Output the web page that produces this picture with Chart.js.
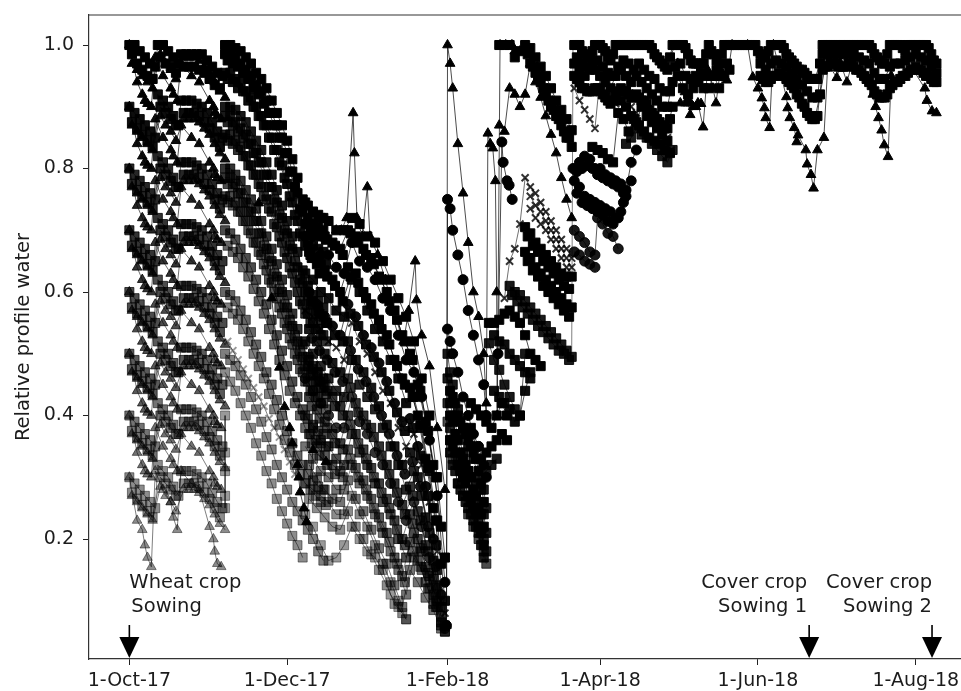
<!DOCTYPE html>
<html>
<head>
<meta charset="utf-8">
<title>Relative profile water</title>
<script src="https://cdn.jsdelivr.net/npm/chart.js@4/dist/chart.umd.min.js"></script>
<style>
  body { margin: 0; background: #fff; overflow: hidden; }
  canvas { display: block; }
</style>
</head>
<body>
<canvas id="waterChart" width="961" height="691"></canvas>
<script>
/*--Axis data (x is days after 1-Oct-17)--*/
const xTickDays = [0, 61, 123, 182, 243, 304];
const xTickLabels = ['1-Oct-17', '1-Dec-17', '1-Feb-18', '1-Apr-18', '1-Jun-18', '1-Aug-18'];
const yTickValues = [0.2, 0.4, 0.6, 0.8, 1.0];
const notes = [
  { day: 0, lines: ['Wheat crop', 'Sowing'], align: 'left', textDay: 0 },
  { day: 262.8, lines: ['Cover crop', 'Sowing 1'], align: 'right', textDay: 262 },
  { day: 310.3, lines: ['Cover crop', 'Sowing 2'], align: 'right', textDay: 310.3 }
];

/*--Wheat crop, Oct to Nov: slow, mid and fast runs per starting level--*/
const slowDays = [0,2,4,6,8,10,11,13,15,17,19,20,22,24,26,28,30,32,34,36];
const slow10 = [1,1,.99,.98,.97,.965,1,1,.99,.98,.97,.985,.985,.985,.985,.985,.975,.965,.955,.95];
const slow09 = [.9,.89,.88,.87,.86,.85,.92,.91,.9,.885,.87,.91,.91,.91,.905,.9,.89,.875,.86,.85];
const slow08 = [.8,.79,.78,.77,.76,.75,.82,.81,.8,.785,.77,.81,.81,.81,.805,.8,.79,.775,.76,.75];
const slow07 = [.7,.69,.68,.67,.66,.65,.72,.71,.7,.685,.67,.71,.71,.71,.705,.7,.69,.675,.66,.65];
const slow06 = [.6,.59,.58,.57,.56,.55,.62,.61,.6,.585,.57,.61,.61,.61,.605,.6,.59,.575,.56,.55];
const slow05 = [.5,.49,.48,.47,.46,.45,.52,.51,.5,.485,.47,.51,.51,.51,.505,.5,.49,.475,.46,.45];
const slow04 = [.4,.39,.38,.37,.36,.35,.42,.41,.4,.385,.37,.41,.41,.41,.405,.4,.39,.375,.36,.35];
const slow03 = [.3,.29,.28,.27,.26,.25,.32,.31,.3,.285,.27,.31,.31,.31,.305,.3,.29,.275,.26,.25];

const slowBDays = [1,3,5,7,9,12,14,16,18,21,23,25,27,29,31,33,35];
const slowB10 = [.985,.97,.96,.95,.945,.98,.97,.965,.955,.965,.965,.965,.96,.955,.945,.935,.93];
const slowB09 = [.875,.865,.855,.845,.835,.9,.89,.88,.87,.89,.89,.89,.885,.875,.865,.85,.835];
const slowB08 = [.775,.765,.755,.745,.735,.8,.79,.78,.77,.79,.79,.79,.785,.775,.765,.75,.735];
const slowB07 = [.675,.665,.655,.645,.635,.7,.69,.68,.67,.69,.69,.69,.685,.675,.665,.65,.635];
const slowB06 = [.575,.565,.555,.545,.535,.6,.59,.58,.57,.59,.59,.59,.585,.575,.565,.55,.535];
const slowB05 = [.475,.465,.455,.445,.435,.5,.49,.48,.47,.49,.49,.49,.485,.475,.465,.45,.435];
const slowB04 = [.375,.365,.355,.345,.335,.4,.39,.38,.37,.39,.39,.39,.385,.375,.365,.35,.335];
const slowB03 = [.275,.265,.255,.245,.235,.3,.29,.28,.27,.29,.29,.29,.285,.275,.265,.25,.235];

const midDays = [1,3,5,7,9,12,14,16,18,21,23,25,27,29,31,33,35,37];
const mid10 = [.97,.96,.95,.94,.93,.985,.97,.96,.945,.98,.98,.98,.975,.965,.955,.94,.925,.915];
const mid09 = [.87,.86,.85,.84,.83,.885,.87,.86,.845,.88,.88,.88,.875,.865,.855,.84,.825,.815];
const mid08 = [.77,.76,.75,.74,.73,.785,.77,.76,.745,.78,.78,.78,.775,.765,.755,.74,.725,.715];
const mid07 = [.67,.66,.65,.64,.63,.685,.67,.66,.645,.68,.68,.68,.675,.665,.655,.64,.625,.615];
const mid06 = [.57,.56,.55,.54,.53,.585,.57,.56,.545,.58,.58,.58,.575,.565,.555,.54,.525,.515];
const mid05 = [.47,.46,.45,.44,.43,.485,.47,.46,.445,.48,.48,.48,.475,.465,.455,.44,.425,.415];
const mid04 = [.37,.36,.35,.34,.33,.385,.37,.36,.345,.38,.38,.38,.375,.365,.355,.34,.325,.315];
const mid03 = [.27,.26,.25,.24,.23,.285,.27,.26,.245,.28,.28,.28,.275,.265,.255,.24,.225,.215];

const fastDays = [0,3,5,6,7,8.5,10,13,16,17,18.5,20,24,27,31,32.5,33,34,35.5];
const fast10 = [1,.94,.92,.91,.905,.9,.98,.95,.93,.92,.91,.97,.95,.94,.91,.9,.89,.885,.88];
const fast09 = [.9,.84,.82,.81,.805,.8,.88,.85,.83,.82,.81,.87,.85,.84,.81,.8,.79,.785,.78];
const fast08 = [.8,.74,.72,.71,.705,.7,.78,.75,.73,.72,.71,.77,.75,.74,.71,.7,.69,.685,.68];
const fast07 = [.7,.64,.62,.61,.605,.6,.68,.65,.63,.62,.61,.67,.65,.64,.61,.6,.59,.585,.58];
const fast06 = [.6,.54,.52,.51,.505,.5,.58,.55,.53,.52,.51,.57,.55,.54,.51,.5,.49,.485,.48];
const fast05 = [.5,.44,.42,.41,.405,.4,.48,.45,.43,.42,.41,.47,.45,.44,.41,.4,.39,.385,.38];
const fast04 = [.4,.34,.32,.31,.305,.3,.38,.35,.33,.32,.31,.37,.35,.34,.31,.3,.29,.285,.28];
const fast03 = [.3,.23,.215,.19,.17,.155,.31,.28,.26,.235,.215,.31,.29,.28,.22,.2,.18,.16,.155];

/*--Second sowing run, from early Nov--*/
const novDays = [37,39,41,43,45,47,49,51,53,55,57,59,61,63,65,67,69,71,73,75];
const novA = [1,1,.995,.99,.98,.97,.955,.945,.93,.91,.89,.87,.845,.815,.785,.75,.74,.73,.725,.72];
const novB = [.9,.9,.895,.885,.875,.86,.845,.83,.81,.79,.765,.74,.715,.69,.665,.635,.61,.595,.585,.575];
const novC = [.8,.8,.79,.78,.765,.75,.735,.715,.69,.67,.645,.62,.595,.565,.54,.515,.495,.48,.47,.46];
const novD = [.7,.695,.685,.67,.655,.64,.62,.6,.58,.555,.53,.505,.48,.455,.43,.41,.395,.385,.375,.37];
const novE = [.6,.595,.585,.57,.555,.535,.515,.495,.47,.45,.425,.4,.375,.355,.335,.32,.305,.295,.285,.28];
const novF = [.5,.49,.48,.465,.45,.43,.41,.39,.365,.345,.32,.3,.28,.26,.245,.23,.215,.2,.18,.165];
const novA4 = [.985,.985,.98,.97,.96,.95,.935,.925,.91,.89,.87,.85,.825,.795,.76,.73,.72,.71,.705,.7];
const novA5 = [.955,.955,.945,.94,.925,.915,.9,.885,.87,.85,.83,.805,.775,.745,.715,.69,.68,.675,.67,.665];
const novB4 = [.885,.885,.875,.865,.855,.84,.825,.81,.79,.77,.745,.72,.695,.67,.64,.615,.595,.58,.57,.56];
const novB5 = [.855,.855,.845,.835,.82,.805,.79,.77,.75,.73,.705,.68,.655,.63,.6,.58,.565,.55,.54,.53];
const novC4 = [.785,.785,.775,.76,.745,.73,.715,.695,.67,.65,.625,.6,.575,.545,.52,.495,.48,.465,.455,.445];
const novC5 = [.755,.755,.745,.73,.715,.695,.68,.66,.635,.615,.59,.565,.54,.515,.49,.47,.455,.44,.43,.42];
const novBackDays = [38,40,42,44,46,48,50,52,54,56,58,60,62,64,66,68,70,72,74,76];
const novA2 = [.975,.97,.965,.955,.945,.93,.92,.905,.89,.87,.85,.825,.795,.77,.735,.71,.7,.695,.69,.685];
const novA3 = [.945,.94,.93,.925,.91,.9,.885,.87,.85,.83,.81,.785,.755,.725,.695,.675,.66,.655,.65,.645];
const novB2 = [.875,.87,.86,.85,.84,.825,.81,.79,.77,.75,.725,.7,.675,.65,.62,.6,.58,.565,.555,.55];
const novB3 = [.845,.84,.83,.82,.805,.79,.775,.755,.735,.71,.69,.665,.64,.615,.585,.565,.55,.54,.53,.52];
const novC2 = [.775,.77,.76,.745,.73,.715,.695,.675,.655,.63,.605,.58,.555,.53,.505,.48,.465,.455,.445,.435];
const novC3 = [.745,.74,.73,.715,.7,.68,.665,.645,.62,.6,.575,.55,.525,.5,.475,.455,.44,.43,.42,.41];
const novD2 = [.675,.665,.655,.64,.625,.605,.585,.565,.54,.515,.49,.465,.44,.42,.4,.38,.37,.36,.355,.35];
const novE2 = [.575,.565,.555,.54,.52,.5,.48,.46,.435,.41,.385,.36,.34,.32,.305,.29,.28,.27,.26,.255];
const novGDays = [37,39,41,43,45,47,49,51,53,55,57,59,61,63,65,67];
const novG = [.47,.455,.44,.42,.4,.38,.355,.335,.31,.29,.265,.245,.225,.205,.19,.17];
const novCrossDays = [38,40,42,44,46,48,50,52,54,56,58,60,62,64];
const novCross = [.52,.505,.49,.475,.46,.445,.43,.415,.395,.38,.365,.345,.325,.305];
const lowSquareDays = [37,37,37,37,37];
const lowSquares = [.4,.34,.31,.27,.25];
const blackTriDays = [50,55,58,60,62,63,65,65.5,66,67.5,68.5,71,76];
const blackTri = [.744,.59,.478,.414,.38,.355,.32,.3,.276,.25,.228,.344,.325];

/*--Dec and Jan mass--*/
const decDays = [68,71,74,77,80,83,86,89,92,95,98,101,104,107,110,113,116,119,122];
const decA = [.745,.73,.72,.715,.7,.7,.72,.71,.69,.68,.65,.62,.59,.56,.52,.46,.4,.3,.17];
const decB = [.69,.69,.66,.66,.64,.63,.68,.65,.64,.62,.59,.57,.53,.49,.47,.43,.36,.27,.13];
const decC = [.63,.62,.6,.59,.57,.56,.62,.6,.57,.54,.52,.49,.46,.42,.43,.38,.31,.23,.1];
const decD = [.57,.56,.54,.52,.51,.49,.55,.52,.5,.47,.44,.42,.38,.35,.37,.32,.26,.18,.08];
const decE = [.52,.5,.48,.46,.44,.43,.49,.45,.43,.41,.38,.35,.32,.28,.31,.27,.21,.15,.06];
const decF = [.46,.44,.42,.4,.38,.38,.43,.39,.37,.34,.32,.29,.26,.23,.26,.22,.17,.12,.055];
const decG = [.4,.38,.36,.35,.33,.32,.37,.34,.32,.29,.26,.24,.2,.17,.21,.18,.14,.1,.05];
const decH = [.35,.33,.31,.3,.28,.28,.32,.29,.27,.24,.21,.18,.15,.11,.17,.15,.12,.09,.05];
const decIDays = [68,71,74,77,80,83,86,89,92,95,98,101,104,107];
const decI = [.29,.28,.27,.26,.24,.24,.27,.24,.22,.19,.16,.13,.1,.07];
const decJ = [.24,.22,.19,.165,.17,.19,.22,.2,.18,.17,.15,.11,.09,.07];
const decBackDays = [69.5,72.5,75.5,78.5,81.5,84.5,87.5,90.5,93.5,96.5,99.5,102.5,105.5,108.5,111.5,114.5,117.5,120.5];
const decA2 = [.71,.7,.69,.68,.67,.7,.69,.67,.655,.625,.6,.57,.53,.5,.45,.39,.32,.22];
const decB2 = [.665,.645,.635,.62,.6,.64,.63,.6,.58,.555,.53,.49,.46,.445,.4,.33,.25,.16];
const decC2 = [.6,.58,.56,.545,.53,.58,.56,.53,.51,.485,.455,.42,.39,.395,.35,.285,.2,.11];
const decD2 = [.54,.52,.5,.485,.47,.52,.49,.47,.445,.415,.385,.35,.32,.34,.3,.235,.165,.09];
const decE2 = [.49,.47,.45,.43,.415,.46,.42,.4,.38,.35,.32,.29,.255,.285,.245,.19,.135,.075];
const decF2 = [.43,.41,.39,.37,.355,.4,.37,.345,.315,.29,.265,.23,.2,.24,.2,.155,.11,.065];
const decG2 = [.37,.35,.335,.32,.31,.345,.315,.295,.265,.235,.21,.17,.14,.195,.165,.13,.095,.06];
const decH2 = [.32,.3,.28,.265,.26,.295,.265,.245,.215,.185,.16,.125,.09,.15,.13,.105,.085,.055];
const decI2Days = [69.5,72.5,75.5,78.5,81.5,84.5,87.5,90.5,93.5,96.5,99.5,102.5,105.5];
const decI2 = [.265,.25,.235,.22,.215,.245,.22,.2,.175,.15,.125,.095,.08];
const decThirdDays = [70.5,73.5,76.5,79.5,82.5,85.5,88.5,91.5,94.5,97.5,100.5,103.5,106.5,109.5,112.5,115.5,118.5];
const decA3 = [.7,.695,.685,.675,.66,.695,.68,.66,.645,.62,.585,.555,.52,.49,.44,.375,.3];
const decB3 = [.655,.63,.625,.61,.585,.625,.615,.59,.565,.54,.515,.48,.45,.43,.385,.315,.23];
const decC3 = [.585,.565,.55,.53,.52,.565,.545,.515,.495,.47,.44,.405,.375,.38,.335,.27,.19];
const decD3 = [.525,.505,.49,.47,.455,.505,.475,.455,.43,.4,.37,.335,.305,.325,.285,.22,.155];
const decE3 = [.475,.455,.44,.415,.4,.445,.405,.385,.365,.335,.305,.275,.24,.27,.23,.18,.125];
const decF3 = [.415,.395,.38,.355,.345,.385,.355,.33,.3,.275,.25,.215,.19,.225,.185,.145,.105];
const decG3 = [.355,.335,.32,.305,.3,.33,.3,.28,.25,.22,.195,.16,.13,.18,.155,.12,.09];
const jumpDecDays = [77.4,77.8];
const jumpDec = [.31,.62];
const spikeDays = [80,82,84,86.5,87,88,90,92,93,96,99,102,106,108,110.5,111,113,116,119,122];
const spike = [.7,.7,.72,.89,.825,.72,.69,.77,.69,.66,.62,.57,.52,.57,.65,.587,.53,.48,.38,.28];

/*--Feb, refill then fast drying to the mid Feb low--*/
const febDays = [123,124,125,127,129,131,133,135,137,138];
const febTopDays = [122.6,123,124,125,127,129,131,133,135,137,138];
const febTop = [.06,1,.97,.93,.84,.76,.68,.6,.56,.5,.42];
const febCircleDays = [122.6,123,124,125,127,129,131,133,135,137,138];
const febCircle = [.06,.75,.735,.7,.66,.62,.57,.53,.49,.45,.4];
const febC = [.54,.52,.5,.47,.43,.4,.37,.35,.32,.3];
const febD = [.5,.47,.45,.41,.38,.35,.33,.3,.28,.25];
const febE = [.46,.42,.4,.37,.34,.31,.28,.26,.24,.21];
const febF = [.42,.38,.36,.33,.3,.27,.25,.23,.2,.18];
const febG = [.39,.36,.33,.29,.27,.24,.22,.2,.18,.16];
const febDailyDays = [124,125,126,127,128,129,130,131,132,133,134,135,136,137];
const febH = [.44,.43,.42,.4,.39,.38,.37,.36,.35,.34,.33,.31,.29,.26];
const febI = [.4,.39,.37,.36,.34,.33,.32,.31,.3,.28,.27,.25,.24,.22];
const febJ = [.36,.35,.34,.32,.31,.3,.29,.27,.26,.25,.24,.22,.21,.19];
const febK = [.34,.32,.31,.29,.28,.27,.26,.25,.24,.23,.22,.21,.19,.17];
const febRightDays = [132,134,136,138,140,142,144,146];
const febL = [.42,.41,.4,.39,.38,.4,.42,.4];
const febM = [.38,.35,.33,.34,.35,.36,.37,.36];
const febNDays = [132,134,136,138,140,142];
const febN = [.3,.29,.28,.31,.32,.33];

/*--Late Feb and Mar--*/
const rainTriDays = [138,138.6,139.5,140.5,141.5,142,142.2,143.3,145.5,147.9,149,151];
const rainTri = [.4,.857,.84,.833,.78,.6,.4,1,1,1,.99,.99];
const rainCircleDays = [142.5,144,144.5,146,146.8,148];
const rainCircle = [.5,.843,.81,.78,.773,.75];
const marDays = [143,145,147,149,151,153,155,157,159,161,163,165,167,169,171];
const marA = [1,1,1,.98,.99,1,.995,.98,.965,.95,.93,.91,.895,.88,.862];
const marB = [.87,.86,.93,.92,.9,.92,.97,.94,.915,.885,.855,.825,.785,.75,.72];
const marA2Days = [155,157,159,161,163,165,167,169,171];
const marA2 = [.97,.955,.94,.92,.9,.885,.87,.85,.835];
const marCrossDays = [145,147,149,151,153,155,157,159,161,163,165,167,169,171];
const marCross = [.59,.65,.67,.71,.785,.77,.76,.745,.73,.715,.7,.685,.67,.655];
const marCross2 = [.755,.74,.73,.715,.7,.685,.67,.655,.64];
const marCross3 = [.735,.72,.71,.7,.685,.67,.655,.64,.625];
const marSqDays = [153,155,157,159,161,163,165,167,169,171];
const marSqA = [.705,.695,.68,.67,.66,.65,.64,.63,.625,.625];
const marSqB = [.665,.655,.64,.63,.62,.61,.6,.59,.58,.575];
const marSqBackDays = [154,156,158,160,162,164,166,168,170];
const marA3 = [.985,.965,.95,.93,.91,.895,.88,.86,.85];
const marSqA2 = [.69,.675,.665,.65,.64,.63,.62,.61,.605];
const marSqB2 = [.65,.635,.625,.61,.6,.59,.58,.57,.56];
const marSqCDays = [147,149,151,153,155,157,159,161,163,165,167,169,171];
const marSqC = [.61,.6,.595,.585,.575,.565,.555,.545,.535,.525,.515,.505,.495];
const marSqC2Days = [148,150,152,154,156,158,160,162,164,166,168,170];
const marSqC2 = [.595,.585,.575,.565,.555,.545,.535,.525,.515,.505,.5,.49];
const marSqDDays = [139,141,143,145,147,149,151,153,155,157,159];
const marSqD = [.55,.55,.555,.565,.57,.56,.55,.53,.5,.49,.48];
const marSqEDays = [139,141,143,145,147,149,151,153];
const marSqE = [.517,.49,.474,.45,.43,.41,.4,.5];
const marFillDays = [141,143,145,147,149,151,153,155];
const marFillA = [.53,.52,.515,.5,.49,.48,.47,.46];
const marFillB = [.44,.43,.42,.41,.39,.4,.44,.47];
const marJumpDays = [171,171.5];
const marJump = [.5,1];

/*--Apr to mid May recovery--*/
const aprDays = [172,174,176,178,180,182,184,186,188,190,192,194,196,198,200,202,204,206,208,210,212,214,216,218,220,222,224,226,228,230,232];
const aprTop = [1,1,.985,.98,1,1,.99,.975,1,1,1,1,1,1,1,.995,.98,.97,.96,1,1,1,.985,.97,.97,.97,1,.985,.97,1,1];
const aprSecond = [.97,.96,.95,.96,.96,.95,.94,.93,.95,.96,.95,.94,.95,.94,.93,.92,.91,.9,.9,.94,.95,.93,.92,.93,.94,.93,.93,.95,.93,.95,.96];
const aprOddDays = [173,175,177,179,181,183,185,187,189,191,193,195,197,199,201,203,205,207,209,211,213,215,217,219,221,223,225,227,229,231];
const aprTopB = [1,.99,.98,.99,1,.995,.98,.985,1,1,1,1,1,1,1,.985,.975,.965,.98,1,1,.995,.975,.97,.97,.985,.99,.975,.985,1];
const aprSecondB = [.98,.97,.965,.97,.975,.965,.955,.95,.965,.975,.97,.96,.97,.96,.95,.945,.93,.925,.925,.965,.97,.95,.945,.95,.955,.95,.95,.96,.95,.97];
const aprThirdDays = [172,174,176,178,180,182,184,186,188,190,192,194,196,198,200,202,204,206,208,210];
const aprThird = [.95,.94,.93,.925,.93,.925,.915,.905,.92,.93,.925,.915,.92,.91,.905,.89,.88,.87,.865,.9];
const aprThirdBDays = [173,175,177,179,181,183,185,187,189,191,193,195,197,199,201,203,205,207,209];
const aprThirdB = [.945,.93,.925,.925,.93,.92,.91,.91,.925,.925,.92,.915,.915,.91,.895,.885,.875,.865,.88];
const aprCrossDays = [172,174,176,178,180,182,184,186,188,190,192,194,196,198,200,202,204,206,208,209.5];
const aprCross = [.93,.91,.895,.88,.865,.95,.935,.92,.905,.93,.92,.9,.89,.92,.9,.89,.875,.86,.85,.83];
const aprSqDays = [179,181,183,185,187,189,191,193,195,197,199,201,203,205,207,209];
const aprSq = [.835,.83,.825,.815,.81,.89,.88,.86,.88,.87,.86,.85,.845,.84,.83,.825];
const aprFourthDays = [190,192,194,196,198,200,202,204,206,208];
const aprFourth = [.91,.9,.885,.875,.9,.885,.875,.865,.855,.845];
const aprSqBDays = [192,194,196,198,200,202,204,206,208,210];
const aprSqB = [.84,.85,.865,.855,.85,.84,.83,.82,.81,.83];
const aprCircleADays = [171.5,174,176,178,180,182,184,186,188,190,192,194,196];
const aprCircleA = [.8,.81,.82,.815,.8,.8,.79,.785,.78,.775,.765,.81,.83];
const aprCircleBDays = [172,174,176,178,180,182,184,186,188,190,192,194];
const aprCircleB = [.78,.77,.755,.75,.745,.74,.735,.73,.72,.73,.755,.78];
const aprCircleCDays = [172,174,176,178,180,181,183,185,187,189];
const aprCircleC = [.7,.69,.68,.665,.66,.72,.71,.695,.69,.67];
const aprBackDays = [173,175,177,179,181,183,185,187,189,191];
const aprCircleA2 = [.795,.8,.805,.8,.79,.785,.78,.775,.77,.76];
const aprCircleB2 = [.76,.745,.74,.735,.73,.725,.715,.71,.72,.745];
const aprLowDays = [172,174,176,178,180];
const aprLow = [.665,.66,.65,.645,.64];

/*--Mid May to the end--*/
const lateDays = [232,234,236,238,240,242,244,246,248,250,252,254,256,258,260,262,264,266,268,270,272,274,276,278,280,282,284,286,288,290,292,294,296,298,300,302,304,306,308,310,312];
const lateTop = [1,1,1,1,1,1,.985,.98,1,1,1,.985,.975,.965,.96,.95,.945,.945,1,1,1,1,1,1,1,1,1,1,.985,.975,.97,1,1,1,.99,1,1,1,1,.985,.97];
const lateOddDays = [233,235,237,239,241,243,245,247,249,251,253,255,257,259,261,263,265,267,269,271,273,275,277,279,281,283,285,287,289,291,293,295,297,299,301,303,305,307,309,311];
const lateTopB = [1,1,1,1,1,.99,.98,.99,1,1,.995,.98,.97,.96,.955,.945,.945,.97,1,1,1,1,1,1,1,1,1,.995,.98,.97,.985,1,1,.995,1,1,1,1,.995,.975];
const lateSecondDays = [244,246,248,250,252,254,256,258,260,262,264,266,268,270,272,274,276,278,280,282,284,286,288,290,292,294,296,298,300,302,304,306,308,310,312];
const lateSecond = [.95,.94,.945,.95,.95,.945,.935,.92,.905,.89,.88,.885,.96,.965,.97,.965,.965,.97,.965,.96,.95,.94,.925,.915,.915,.93,.94,.945,.95,.96,.965,.96,.95,.945,.94];
const lateMid = [.97,.96,.97,.975,.97,.965,.955,.945,.935,.925,.915,.915,.985,.985,.985,.985,.985,.985,.985,.98,.975,.97,.955,.945,.945,.965,.97,.97,.975,.98,.985,.98,.975,.965,.955];
const lateSecondBDays = [245,247,249,251,253,255,257,259,261,263,265,267,269,271,273,275,277,279,281,283,285,287,289,291,293,295,297,299,301,303,305,307,309,311];
const lateSecondB = [.945,.94,.95,.955,.95,.94,.93,.915,.9,.885,.88,.92,.965,.97,.97,.965,.965,.97,.96,.955,.945,.935,.92,.915,.92,.935,.94,.95,.955,.96,.96,.955,.95,.94];
const dipDays = [212,214.8,216,216.8,218,219.8,221.8,223.5,225.6,226.8,228.5,231,233,239,241,243,244.5,245.5,246,247.5,249,254,254.5,255.3,257,258,258.5,261.5,262,263.5,264.5,266,268.5,270,273.5,275,277.4,280,287.4,288.5,289.6,290.8,291.8,293.3,294.5,298,300,307.5,308.3,310.3,312];
const dipValues = [.97,.924,.906,.887,.9,.906,.867,.96,.93,.906,.96,.943,1,1,.948,.93,.914,.898,.882,.866,1,.916,.898,.882,.866,.843,.854,.83,.807,.79,.768,.83,.85,.97,.947,.97,.94,.98,.92,.9,.882,.862,.838,.819,.95,.943,.98,.93,.91,.893,.89];
const dipBDays = [213,215,217,219,221];
const dipB = [.906,.906,.906,.9,.905];

/*--One row per plotted run: days, values, marker, darkness--*/
const runs = [
  [slowDays, slow10, 'rect', 1], [slowDays, slow09, 'rect', .95], [slowDays, slow08, 'rect', .85], [slowDays, slow07, 'rect', .8],
  [slowDays, slow06, 'rect', .7], [slowDays, slow05, 'rect', .65], [slowDays, slow04, 'rect', .55], [slowDays, slow03, 'rect', .45],
  [slowBDays, slowB10, 'rect', 1], [slowBDays, slowB09, 'rect', .95], [slowBDays, slowB08, 'rect', .85], [slowBDays, slowB07, 'rect', .8],
  [slowBDays, slowB06, 'rect', .7], [slowBDays, slowB05, 'rect', .65], [slowBDays, slowB04, 'rect', .55], [slowBDays, slowB03, 'rect', .45],
  [midDays, mid10, 'triangle', 1], [midDays, mid09, 'triangle', .95], [midDays, mid08, 'triangle', .85], [midDays, mid07, 'triangle', .8],
  [midDays, mid06, 'triangle', .7], [midDays, mid05, 'triangle', .65], [midDays, mid04, 'triangle', .55], [midDays, mid03, 'triangle', .45],
  [fastDays, fast10, 'triangle', 1], [fastDays, fast09, 'triangle', .95], [fastDays, fast08, 'triangle', .85], [fastDays, fast07, 'triangle', .8],
  [fastDays, fast06, 'triangle', .7], [fastDays, fast05, 'triangle', .65], [fastDays, fast04, 'triangle', .55], [fastDays, fast03, 'triangle', .45],
  [novDays, novA, 'rect', 1], [novDays, novB, 'rect', .9], [novDays, novC, 'rect', .8], [novDays, novD, 'rect', .7],
  [novDays, novE, 'rect', .6], [novDays, novF, 'rect', .5], [novGDays, novG, 'rect', .45], [novCrossDays, novCross, 'crossRot', .4],
  [novDays, novA4, 'rect', 1], [novDays, novA5, 'rect', .95], [novDays, novB4, 'rect', .9], [novDays, novB5, 'rect', .85],
  [novDays, novC4, 'rect', .8], [novDays, novC5, 'rect', .7],
  [novBackDays, novA2, 'rect', 1], [novBackDays, novA3, 'rect', .95], [novBackDays, novB2, 'rect', .85], [novBackDays, novB3, 'rect', .8],
  [novBackDays, novC2, 'rect', .7], [novBackDays, novC3, 'rect', .65], [novBackDays, novD2, 'rect', .6], [novBackDays, novE2, 'rect', .5],
  [lowSquareDays, lowSquares, 'rect', .4], [blackTriDays, blackTri, 'triangle', 1],
  [decDays, decA, 'rect', 1], [decDays, decB, 'circle', 1], [decDays, decC, 'rect', .95], [decDays, decD, 'crossRot', .8],
  [decDays, decE, 'rect', .85], [decDays, decF, 'circle', .8], [decDays, decG, 'rect', .7], [decDays, decH, 'rect', .55],
  [decIDays, decI, 'rect', .45], [decIDays, decJ, 'rect', .4],
  [decBackDays, decA2, 'rect', 1], [decBackDays, decB2, 'rect', 1], [decBackDays, decC2, 'circle', .95], [decBackDays, decD2, 'rect', .9],
  [decBackDays, decE2, 'rect', .8], [decBackDays, decF2, 'rect', .75], [decBackDays, decG2, 'rect', .65], [decBackDays, decH2, 'rect', .55],
  [decThirdDays, decA3, 'rect', 1], [decThirdDays, decB3, 'rect', 1], [decThirdDays, decC3, 'rect', .95], [decThirdDays, decD3, 'circle', .9],
  [decThirdDays, decE3, 'rect', .8], [decThirdDays, decF3, 'rect', .7], [decThirdDays, decG3, 'rect', .6],
  [decI2Days, decI2, 'rect', .45], [jumpDecDays, jumpDec, 'rect', 0], [spikeDays, spike, 'triangle', 1],
  [febTopDays, febTop, 'triangle', 1], [febCircleDays, febCircle, 'circle', 1], [febDays, febC, 'circle', 1], [febDays, febD, 'rect', .9],
  [febDays, febE, 'rect', .9], [febDays, febF, 'rect', .85], [febDays, febG, 'rect', .7],
  [febDailyDays, febH, 'rect', 1], [febDailyDays, febI, 'rect', 1], [febDailyDays, febJ, 'rect', 1], [febDailyDays, febK, 'rect', .9],
  [febRightDays, febL, 'rect', 1], [febRightDays, febM, 'rect', 1], [febNDays, febN, 'rect', .9],
  [rainTriDays, rainTri, 'triangle', 1], [rainCircleDays, rainCircle, 'circle', 1], [marDays, marA, 'rect', 1], [marDays, marB, 'triangle', 1],
  [marA2Days, marA2, 'rect', 1], [marSqBackDays, marA3, 'rect', 1], [marCrossDays, marCross, 'crossRot', .8], [marA2Days, marCross2, 'crossRot', .8], [marA2Days, marCross3, 'crossRot', .8],
  [marSqDays, marSqA, 'rect', 1], [marSqDays, marSqB, 'rect', 1], [marSqBackDays, marSqA2, 'rect', 1], [marSqBackDays, marSqB2, 'rect', 1],
  [marSqCDays, marSqC, 'rect', .9], [marSqC2Days, marSqC2, 'rect', .9],
  [marSqDDays, marSqD, 'rect', 1], [marSqEDays, marSqE, 'rect', .9], [marFillDays, marFillA, 'rect', .95], [marFillDays, marFillB, 'rect', .95],
  [marJumpDays, marJump, 'rect', 0],
  [aprDays, aprTop, 'rect', 1], [aprDays, aprSecond, 'rect', 1], [aprOddDays, aprTopB, 'rect', 1], [aprOddDays, aprSecondB, 'rect', 1],
  [aprThirdDays, aprThird, 'rect', 1], [aprThirdBDays, aprThirdB, 'rect', 1], [aprCrossDays, aprCross, 'crossRot', .8],
  [aprSqDays, aprSq, 'rect', 1], [aprFourthDays, aprFourth, 'rect', 1], [aprSqBDays, aprSqB, 'rect', .9],
  [aprCircleADays, aprCircleA, 'circle', 1], [aprCircleBDays, aprCircleB, 'circle', 1], [aprCircleCDays, aprCircleC, 'circle', .9],
  [aprBackDays, aprCircleA2, 'circle', 1], [aprBackDays, aprCircleB2, 'circle', 1], [aprLowDays, aprLow, 'circle', .9],
  [lateDays, lateTop, 'rect', 1], [lateOddDays, lateTopB, 'rect', 1], [lateSecondDays, lateSecond, 'rect', 1], [lateSecondDays, lateMid, 'rect', 1],
  [lateSecondBDays, lateSecondB, 'rect', 1], [dipDays, dipValues, 'triangle', 1], [dipBDays, dipB, 'triangle', 1]
];

const markerRadius = { rect: 6.4, triangle: 5.6, circle: 5, crossRot: 5 };
const markerBorder = { rect: 1, triangle: 1, circle: 1, crossRot: 2 };

const waterDatasets = runs.map(function (run) {
  var shade = 'rgba(0,0,0,' + run[3] + ')';
  var lineShade = 'rgba(0,0,0,' + Math.max(run[3] * 0.7, 0.5) + ')';
  return {
    data: run[0].map(function (day, i) { return { x: day, y: run[1][i] }; }),
    showLine: true,
    tension: 0,
    borderWidth: 1,
    borderColor: lineShade,
    pointStyle: run[2],
    pointRadius: run[3] === 0 ? 0 : markerRadius[run[2]],
    pointBorderWidth: markerBorder[run[2]],
    pointBackgroundColor: shade,
    pointBorderColor: shade
  };
});

/*--Top spine, sowing arrows and their labels--*/
const annotationPlugin = {
  id: 'sowingNotes',
  afterDraw: function (chart) {
    var ctx = chart.ctx, area = chart.chartArea, xs = chart.scales.x;
    ctx.save();
    ctx.strokeStyle = '#333';
    ctx.lineWidth = 1.2;
    ctx.beginPath();
    ctx.moveTo(area.left, area.top);
    ctx.lineTo(area.right, area.top);
    ctx.stroke();

    ctx.fillStyle = '#1c1c1c';
    ctx.font = '19.5px "DejaVu Sans"';
    ctx.textBaseline = 'middle';
    notes.forEach(function (note) {
      var ax = xs.getPixelForValue(note.day), tx = xs.getPixelForValue(note.textDay);
      ctx.textAlign = note.align;
      ctx.fillText(note.lines[0], tx, 583);
      ctx.fillText(note.lines[1], note.align === 'left' ? tx + 2 : tx, 607);

      ctx.strokeStyle = '#000';
      ctx.lineWidth = 1.6;
      ctx.beginPath();
      ctx.moveTo(ax, 625);
      ctx.lineTo(ax, 640);
      ctx.stroke();
      ctx.fillStyle = '#000';
      ctx.beginPath();
      ctx.moveTo(ax - 10, 637);
      ctx.lineTo(ax + 10, 637);
      ctx.lineTo(ax, 658);
      ctx.closePath();
      ctx.fill();
      ctx.fillStyle = '#1c1c1c';
    });
    ctx.restore();
  }
};

var waterChart = new Chart('waterChart', {
  type: 'scatter',
  data: { datasets: waterDatasets },
  plugins: [annotationPlugin],
  options: {
    responsive: false,
    animation: false,
    layout: { autoPadding: false, padding: { top: 15, right: 0, left: 0, bottom: 0 } },
    plugins: { legend: { display: false }, tooltip: { enabled: false } },
    scales: {
      x: {
        type: 'linear',
        min: -15.6,
        max: 321.5,
        afterFit: function (scale) { scale.height = 32; scale.paddingLeft = 0; scale.paddingRight = 0; },
        afterBuildTicks: function (scale) {
          scale.ticks = xTickDays.map(function (d) { return { value: d }; });
        },
        grid: { drawOnChartArea: false, tickLength: 6, color: '#222' },
        border: { color: '#333', width: 1.2 },
        ticks: {
          autoSkip: false, maxRotation: 0, padding: 5, color: '#1c1c1c',
          font: { family: '"DejaVu Sans"', size: 19 },
          callback: function (value) { return xTickLabels[xTickDays.indexOf(value)]; }
        }
      },
      y: {
        min: 0.0057,
        max: 1.0486,
        afterFit: function (scale) { scale.width = 89; scale.paddingTop = 0; scale.paddingBottom = 0; },
        afterBuildTicks: function (scale) {
          scale.ticks = yTickValues.map(function (v) { return { value: v }; });
        },
        grid: { drawOnChartArea: false, tickLength: 6, color: '#222' },
        border: { color: '#333', width: 1.2 },
        title: {
          display: true,
          text: 'Relative profile water',
          color: '#1c1c1c',
          font: { family: '"DejaVu Sans"', size: 19.5 },
          padding: { top: 12, bottom: 0 }
        },
        ticks: {
          autoSkip: false, padding: 9, color: '#1c1c1c',
          font: { family: '"DejaVu Sans"', size: 19 },
          callback: function (value) { return value.toFixed(1); }
        }
      }
    }
  }
});
</script>
</body>
</html>
